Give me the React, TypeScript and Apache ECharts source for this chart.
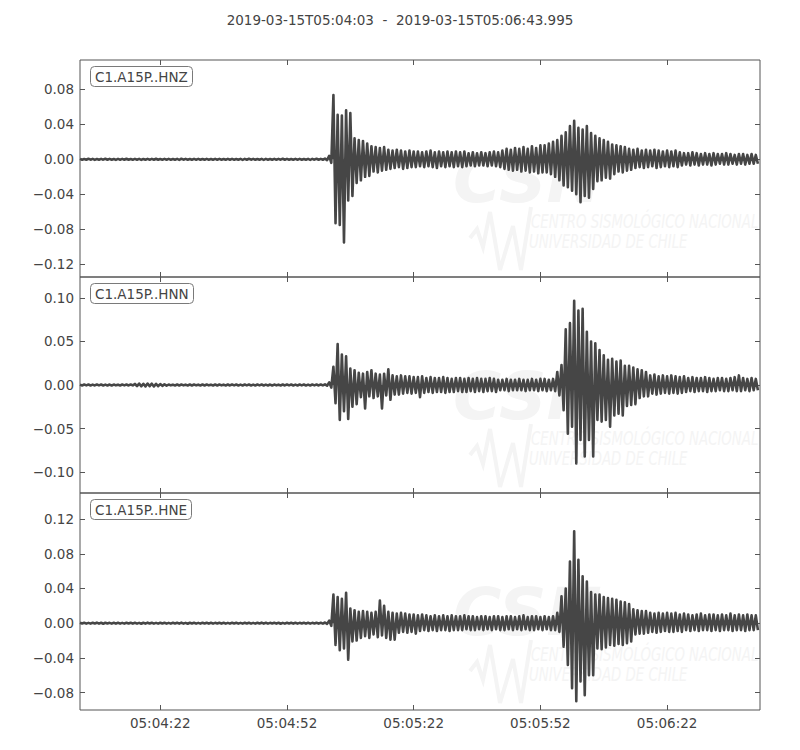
import React, { useEffect, useRef } from "react";
import * as echarts from "echarts";

// ---------------- data ----------------
const TITLE = "2019-03-15T05:04:03  -  2019-03-15T05:06:43.995";
const CHANNELS = ["C1.A15P..HNZ", "C1.A15P..HNN", "C1.A15P..HNE"];
const START_SEC = 5 * 3600 + 4 * 60 + 3; // 05:04:03
const DURATION = 160.995; // seconds
const X_TICKS = [19, 49, 79, 109, 139]; // 05:04:22 ... 05:06:22 (seconds after start)
const Y_RANGES = [
  [-0.1345, 0.1135],
  [-0.124, 0.124],
  [-0.1, 0.15],
];
const Y_TICKS = [
  [-0.12, -0.08, -0.04, 0, 0.04, 0.08],
  [-0.1, -0.05, 0, 0.05, 0.1],
  [-0.08, -0.04, 0, 0.04, 0.08, 0.12],
];

// per-second envelope (max / min of the trace within each second), t = 0..160 s
// HNZ
const Z_HI_PRE = [
  0.0005, 0.0004, 0.0006, 0.0005, 0.0004, 0.0005, 0.0006, 0.0005, 0.0004, 0.0005,
  0.0005, 0.0006, 0.0004, 0.0005, 0.0005, 0.0004, 0.0005, 0.0005, 0.0006, 0.0004,
  0.0005, 0.0005, 0.0004, 0.0005, 0.0006, 0.0005, 0.0004, 0.0005, 0.0005, 0.0004,
  0.0005, 0.0004, 0.0005, 0.0005, 0.0004, 0.0005, 0.0005, 0.0004, 0.0005, 0.0005,
  0.0006, 0.0005, 0.0004, 0.0005, 0.0005, 0.0004, 0.0005, 0.0005, 0.0006, 0.0005,
  0.0004, 0.0005, 0.0005, 0.0004, 0.0005, 0.0005, 0.0006, 0.0005, 0.0008,
];
const Z_HI_EVENT = [
  0.004,
  0.0735, 0.051, 0.05, 0.056, 0.053, 0.024, 0.022, 0.021, 0.018, 0.015,
  0.014, 0.013, 0.014, 0.011, 0.01, 0.011, 0.01, 0.009, 0.01, 0.009,
  0.009, 0.008, 0.009, 0.01, 0.008, 0.009, 0.008, 0.009, 0.008, 0.009,
  0.008, 0.009, 0.007, 0.008, 0.007, 0.008, 0.007, 0.008, 0.009, 0.008,
  0.01, 0.012, 0.011, 0.013, 0.012, 0.014, 0.012, 0.015, 0.013, 0.016,
  0.016, 0.018, 0.02, 0.022, 0.027, 0.031, 0.038, 0.044, 0.036, 0.034,
  0.038, 0.03, 0.027, 0.024, 0.022, 0.02, 0.017, 0.016, 0.015, 0.014,
  0.012, 0.011, 0.012, 0.01, 0.011, 0.01, 0.011, 0.01, 0.009, 0.01,
  0.009, 0.01, 0.008, 0.007, 0.007, 0.008, 0.007, 0.006, 0.007, 0.006,
  0.007, 0.006, 0.006, 0.007, 0.006, 0.005, 0.006, 0.006, 0.005, 0.006, 0.005,
];
const Z_LO_PRE = [
  -0.0005, -0.0005, -0.0004, -0.0006, -0.0005, -0.0004, -0.0005, -0.0005, -0.0006, -0.0004,
  -0.0005, -0.0005, -0.0004, -0.0005, -0.0006, -0.0005, -0.0004, -0.0005, -0.0005, -0.0004,
  -0.0005, -0.0004, -0.0005, -0.0006, -0.0004, -0.0005, -0.0005, -0.0004, -0.0005, -0.0005,
  -0.0004, -0.0005, -0.0005, -0.0004, -0.0005, -0.0005, -0.0004, -0.0005, -0.0006, -0.0005,
  -0.0004, -0.0005, -0.0005, -0.0006, -0.0004, -0.0005, -0.0005, -0.0004, -0.0005, -0.0005,
  -0.0005, -0.0004, -0.0005, -0.0005, -0.0006, -0.0004, -0.0005, -0.0005, -0.0009,
];
const Z_LO_EVENT = [
  -0.004,
  -0.073, -0.075, -0.095, -0.047, -0.042, -0.027, -0.024, -0.02, -0.019, -0.014,
  -0.015, -0.013, -0.012, -0.011, -0.01, -0.009, -0.011, -0.01, -0.009, -0.009,
  -0.008, -0.009, -0.008, -0.009, -0.01, -0.008, -0.009, -0.008, -0.009, -0.008,
  -0.009, -0.008, -0.007, -0.008, -0.007, -0.007, -0.008, -0.007, -0.008, -0.009,
  -0.011, -0.012, -0.013, -0.012, -0.014, -0.013, -0.015, -0.014, -0.016, -0.015,
  -0.015, -0.017, -0.02, -0.024, -0.03, -0.032, -0.036, -0.04, -0.049, -0.042,
  -0.044, -0.034, -0.025, -0.024, -0.021, -0.022, -0.017, -0.014, -0.015, -0.013,
  -0.012, -0.01, -0.009, -0.01, -0.009, -0.008, -0.01, -0.009, -0.008, -0.009,
  -0.008, -0.009, -0.007, -0.006, -0.007, -0.006, -0.007, -0.006, -0.006, -0.007,
  -0.006, -0.005, -0.006, -0.006, -0.005, -0.006, -0.005, -0.006, -0.005, -0.005, -0.005,
];

// HNN
const N_HI_PRE = [
  0.0004, 0.0005, 0.0005, 0.0004, 0.0006, 0.0005, 0.0004, 0.0005, 0.0005, 0.0004,
  0.0005, 0.0005, 0.0006, 0.0012, 0.0016, 0.0014, 0.0017, 0.0015, 0.0013, 0.0011,
  0.0008, 0.0005, 0.0004, 0.0005, 0.0005, 0.0004, 0.0005, 0.0005, 0.0004, 0.0005,
  0.0005, 0.0004, 0.0005, 0.0005, 0.0004, 0.0005, 0.0006, 0.0005, 0.0004, 0.0005,
  0.0005, 0.0004, 0.0005, 0.0005, 0.0004, 0.0005, 0.0005, 0.0004, 0.0005, 0.0006,
  0.0005, 0.0004, 0.0005, 0.0005, 0.0004, 0.0005, 0.0005, 0.0006, 0.0008,
];
const N_HI_EVENT = [
  0.003,
  0.021, 0.047, 0.035, 0.033, 0.019, 0.017, 0.014, 0.013, 0.015, 0.017,
  0.013, 0.012, 0.013, 0.018, 0.011, 0.01, 0.011, 0.01, 0.01, 0.009,
  0.009, 0.01, 0.008, 0.009, 0.008, 0.008, 0.009, 0.008, 0.007, 0.008,
  0.008, 0.007, 0.008, 0.007, 0.008, 0.007, 0.007, 0.008, 0.007, 0.006,
  0.006, 0.007, 0.006, 0.006, 0.007, 0.006, 0.006, 0.007, 0.006, 0.007,
  0.007, 0.006, 0.007, 0.015, 0.023, 0.064, 0.071, 0.0966, 0.0855, 0.0875,
  0.061, 0.05, 0.048, 0.04, 0.034, 0.029, 0.03, 0.027, 0.028, 0.022,
  0.022, 0.02, 0.018, 0.017, 0.015, 0.011, 0.012, 0.01, 0.011, 0.01,
  0.011, 0.01, 0.009, 0.01, 0.008, 0.009, 0.008, 0.008, 0.009, 0.008,
  0.007, 0.008, 0.008, 0.007, 0.008, 0.009, 0.011, 0.008, 0.007, 0.008, 0.007,
];
const N_LO_PRE = [
  -0.0005, -0.0004, -0.0005, -0.0005, -0.0004, -0.0005, -0.0005, -0.0006, -0.0004, -0.0005,
  -0.0004, -0.0005, -0.0005, -0.0012, -0.0015, -0.0016, -0.0013, -0.0017, -0.0014, -0.001,
  -0.0007, -0.0004, -0.0005, -0.0005, -0.0004, -0.0005, -0.0005, -0.0004, -0.0005, -0.0005,
  -0.0004, -0.0005, -0.0005, -0.0004, -0.0005, -0.0005, -0.0004, -0.0005, -0.0005, -0.0004,
  -0.0005, -0.0005, -0.0004, -0.0005, -0.0005, -0.0006, -0.0004, -0.0005, -0.0005, -0.0004,
  -0.0005, -0.0005, -0.0004, -0.0005, -0.0005, -0.0004, -0.0005, -0.0005, -0.0008,
];
const N_LO_EVENT = [
  -0.003,
  -0.021, -0.04, -0.03, -0.039, -0.025, -0.022, -0.014, -0.027, -0.013, -0.015,
  -0.013, -0.027, -0.012, -0.017, -0.011, -0.011, -0.01, -0.009, -0.01, -0.009,
  -0.014, -0.009, -0.008, -0.009, -0.008, -0.008, -0.009, -0.008, -0.008, -0.007,
  -0.008, -0.008, -0.007, -0.008, -0.007, -0.008, -0.007, -0.007, -0.008, -0.006,
  -0.006, -0.007, -0.006, -0.006, -0.006, -0.007, -0.006, -0.006, -0.007, -0.006,
  -0.007, -0.006, -0.007, -0.012, -0.029, -0.056, -0.048, -0.09, -0.063, -0.082,
  -0.063, -0.082, -0.04, -0.042, -0.04, -0.048, -0.035, -0.033, -0.035, -0.024,
  -0.023, -0.022, -0.015, -0.013, -0.013, -0.01, -0.011, -0.01, -0.009, -0.01,
  -0.009, -0.01, -0.009, -0.008, -0.007, -0.008, -0.007, -0.007, -0.008, -0.007,
  -0.007, -0.006, -0.007, -0.007, -0.006, -0.007, -0.007, -0.006, -0.007, -0.006, -0.006,
];

// HNE
const E_HI_PRE = [
  0.0005, 0.0005, 0.0004, 0.0005, 0.0006, 0.0005, 0.0005, 0.0004, 0.0005, 0.0005,
  0.0004, 0.0005, 0.0005, 0.0005, 0.0004, 0.0005, 0.0006, 0.0005, 0.0004, 0.0005,
  0.0005, 0.0004, 0.0005, 0.0005, 0.0006, 0.0004, 0.0005, 0.0005, 0.0004, 0.0005,
  0.0005, 0.0005, 0.0004, 0.0005, 0.0005, 0.0004, 0.0005, 0.0005, 0.0004, 0.0005,
  0.0005, 0.0004, 0.0005, 0.0006, 0.0005, 0.0004, 0.0005, 0.0005, 0.0004, 0.0005,
  0.0005, 0.0005, 0.0004, 0.0005, 0.0005, 0.0004, 0.0005, 0.0005, 0.0008,
];
const E_HI_EVENT = [
  0.003,
  0.033, 0.03, 0.028, 0.035, 0.017, 0.015, 0.013, 0.014, 0.013, 0.012,
  0.013, 0.026, 0.02, 0.013, 0.012, 0.011, 0.012, 0.011, 0.01, 0.01,
  0.009, 0.01, 0.009, 0.008, 0.009, 0.008, 0.009, 0.008, 0.009, 0.008,
  0.008, 0.009, 0.008, 0.008, 0.007, 0.008, 0.008, 0.007, 0.008, 0.008,
  0.007, 0.008, 0.008, 0.007, 0.008, 0.009, 0.007, 0.008, 0.008, 0.007,
  0.008, 0.007, 0.008, 0.012, 0.031, 0.04, 0.071, 0.106, 0.073, 0.054,
  0.048, 0.036, 0.033, 0.033, 0.03, 0.029, 0.028, 0.027, 0.025, 0.024,
  0.022, 0.016, 0.015, 0.014, 0.014, 0.012, 0.011, 0.012, 0.011, 0.012,
  0.011, 0.012, 0.01, 0.011, 0.01, 0.009, 0.01, 0.011, 0.009, 0.01,
  0.01, 0.009, 0.01, 0.009, 0.011, 0.009, 0.01, 0.009, 0.01, 0.009, 0.009,
];
const E_LO_PRE = [
  -0.0004, -0.0005, -0.0005, -0.0004, -0.0005, -0.0006, -0.0004, -0.0005, -0.0005, -0.0005,
  -0.0005, -0.0004, -0.0005, -0.0005, -0.0006, -0.0005, -0.0004, -0.0005, -0.0005, -0.0004,
  -0.0005, -0.0005, -0.0004, -0.0005, -0.0005, -0.0006, -0.0004, -0.0005, -0.0005, -0.0004,
  -0.0005, -0.0005, -0.0004, -0.0005, -0.0005, -0.0005, -0.0004, -0.0005, -0.0005, -0.0004,
  -0.0005, -0.0005, -0.0004, -0.0005, -0.0005, -0.0004, -0.0005, -0.0006, -0.0005, -0.0004,
  -0.0005, -0.0005, -0.0004, -0.0005, -0.0005, -0.0004, -0.0005, -0.0005, -0.0008,
];
const E_LO_EVENT = [
  -0.003,
  -0.025, -0.031, -0.029, -0.042, -0.021, -0.02, -0.017, -0.015, -0.017, -0.013,
  -0.016, -0.014, -0.017, -0.019, -0.019, -0.011, -0.01, -0.011, -0.01, -0.012,
  -0.009, -0.008, -0.009, -0.008, -0.009, -0.008, -0.008, -0.009, -0.008, -0.008,
  -0.008, -0.007, -0.008, -0.008, -0.007, -0.008, -0.007, -0.008, -0.007, -0.008,
  -0.008, -0.007, -0.008, -0.007, -0.008, -0.007, -0.008, -0.008, -0.007, -0.008,
  -0.007, -0.008, -0.008, -0.01, -0.027, -0.048, -0.075, -0.09, -0.067, -0.083,
  -0.06, -0.06, -0.029, -0.03, -0.028, -0.025, -0.026, -0.024, -0.025, -0.023,
  -0.021, -0.013, -0.012, -0.012, -0.011, -0.01, -0.011, -0.01, -0.009, -0.01,
  -0.01, -0.009, -0.01, -0.008, -0.009, -0.008, -0.009, -0.008, -0.008, -0.009,
  -0.008, -0.009, -0.008, -0.008, -0.009, -0.008, -0.008, -0.009, -0.008, -0.008, -0.008,
];

const HI = [
  [...Z_HI_PRE, ...Z_HI_EVENT],
  [...N_HI_PRE, ...N_HI_EVENT],
  [...E_HI_PRE, ...E_HI_EVENT],
];
const LO = [
  [...Z_LO_PRE, ...Z_LO_EVENT],
  [...N_LO_PRE, ...N_LO_EVENT],
  [...E_LO_PRE, ...E_LO_EVENT],
];

// ---------------- styling / layout ----------------
const FONT = '"DejaVu Sans", sans-serif';
const FS = 13.5;
const TEXT = "#444444";
const FRAME = "#555555";
const TRACE = "#464646";
const WM = "#f4f4f4";
const LEFT = 80;
const WIDTH = 680;
const PANEL_TOPS = [60, 277, 493];
const PANEL_H = [217, 216, 217];

function pad2(n: number) {
  return n < 10 ? "0" + n : "" + n;
}
function fmtTime(v: number) {
  const s = Math.round(START_SEC + v);
  return pad2(Math.floor(s / 3600)) + ":" + pad2(Math.floor((s % 3600) / 60)) + ":" + pad2(s % 60);
}
function fmtY(v: number) {
  const a = Math.abs(v).toFixed(2);
  return v < -1e-9 ? "\u2212" + a : a;
}
function traceData(hi: number[], lo: number[]) {
  const d: number[][] = [];
  for (let i = 0; i < hi.length; i++) {
    d.push([i, hi[i]]);
    d.push([i + 0.5, lo[i]]);
  }
  return d;
}

function buildOption() {
  const grid: any[] = [];
  const xAxis: any[] = [];
  const yAxis: any[] = [];
  const series: any[] = [];
  const title: any[] = [
    {
      text: TITLE,
      left: "center",
      top: 13,
      padding: 0,
      textStyle: { fontSize: FS, fontWeight: "normal", color: TEXT, fontFamily: FONT },
    },
  ];
  const graphic: any[] = [];

  for (let i = 0; i < 3; i++) {
    grid.push({
      left: LEFT,
      top: PANEL_TOPS[i],
      width: WIDTH,
      height: PANEL_H[i],
      show: true,
      borderColor: FRAME,
      borderWidth: 1,
      backgroundColor: "transparent",
    });
    for (const pos of ["bottom", "top"]) {
      xAxis.push({
        type: "value",
        gridIndex: i,
        position: pos,
        min: 0,
        max: DURATION,
        axisLine: { show: false, onZero: false },
        splitLine: { show: false },
        axisTick: { show: true, inside: true, length: 5, customValues: X_TICKS, lineStyle: { color: FRAME } },
        axisLabel: {
          show: pos === "bottom" && i === 2,
          customValues: X_TICKS,
          formatter: fmtTime,
          color: TEXT,
          fontSize: FS,
          fontFamily: FONT,
          margin: 6,
        },
      });
    }
    for (const pos of ["left", "right"]) {
      yAxis.push({
        type: "value",
        gridIndex: i,
        position: pos,
        min: Y_RANGES[i][0],
        max: Y_RANGES[i][1],
        axisLine: { show: false, onZero: false },
        splitLine: { show: false },
        axisTick: { show: true, inside: true, length: 5, customValues: Y_TICKS[i], lineStyle: { color: FRAME } },
        axisLabel: {
          show: pos === "left",
          customValues: Y_TICKS[i],
          formatter: fmtY,
          color: TEXT,
          fontSize: FS,
          fontFamily: FONT,
          margin: 6,
        },
      });
    }
    series.push({
      type: "line",
      xAxisIndex: 2 * i,
      yAxisIndex: 2 * i,
      data: traceData(HI[i], LO[i]),
      showSymbol: false,
      symbol: "none",
      silent: true,
      z: 3,
      lineStyle: { color: TRACE, width: 2.6, join: "round" },
      areaStyle: { color: TRACE, opacity: 1, origin: 0 },
    });
    title.push({
      text: CHANNELS[i],
      left: LEFT + 10,
      top: PANEL_TOPS[i] + 6,
      padding: [3, 5, 2, 5],
      borderColor: "#7a7a7a",
      borderWidth: 1,
      borderRadius: 4,
      backgroundColor: "#ffffff",
      textStyle: { fontSize: FS, fontWeight: "normal", color: TEXT, fontFamily: FONT, lineHeight: 16 },
    });

    // faint CSN watermark
    const dy = PANEL_TOPS[i] - 60;
    graphic.push(
      {
        type: "text",
        x: 453,
        y: 146 + dy,
        silent: true,
        z: 0,
        style: { text: "CSN", fill: WM, font: 'italic bold 66px "DejaVu Sans"' },
      },
      {
        type: "polyline",
        silent: true,
        z: 0,
        shape: {
          points: [
            [470, 238 + dy],
            [477, 229 + dy],
            [483, 247 + dy],
            [490, 212 + dy],
            [500, 270 + dy],
            [513, 226 + dy],
            [521, 270 + dy],
            [531, 207 + dy],
          ],
        },
        style: { stroke: WM, lineWidth: 4, fill: null },
      },
      {
        type: "text",
        x: 531,
        y: 211 + dy,
        scaleX: 0.74,
        silent: true,
        z: 0,
        style: { text: "CENTRO SISMOLÓGICO NACIONAL", fill: WM, font: 'italic 20px "DejaVu Sans Condensed", sans-serif' },
      },
      {
        type: "text",
        x: 529,
        y: 231 + dy,
        scaleX: 0.74,
        silent: true,
        z: 0,
        style: { text: "UNIVERSIDAD DE CHILE", fill: WM, font: 'italic 20px "DejaVu Sans Condensed", sans-serif' },
      }
    );
  }

  return {
    animation: false,
    backgroundColor: "#ffffff",
    title,
    grid,
    xAxis,
    yAxis,
    series,
    graphic,
  };
}

export default function App() {
  const ref = useRef<HTMLDivElement>(null);
  useEffect(() => {
    if (!ref.current) return;
    const chart = echarts.init(ref.current, null, { renderer: "svg" });
    chart.setOption(buildOption() as any);
    return () => chart.dispose();
  }, []);
  return (
    <div
      ref={ref}
      style={{ position: "absolute", left: 0, top: 0, width: 800, height: 750 }}
    />
  );
}
